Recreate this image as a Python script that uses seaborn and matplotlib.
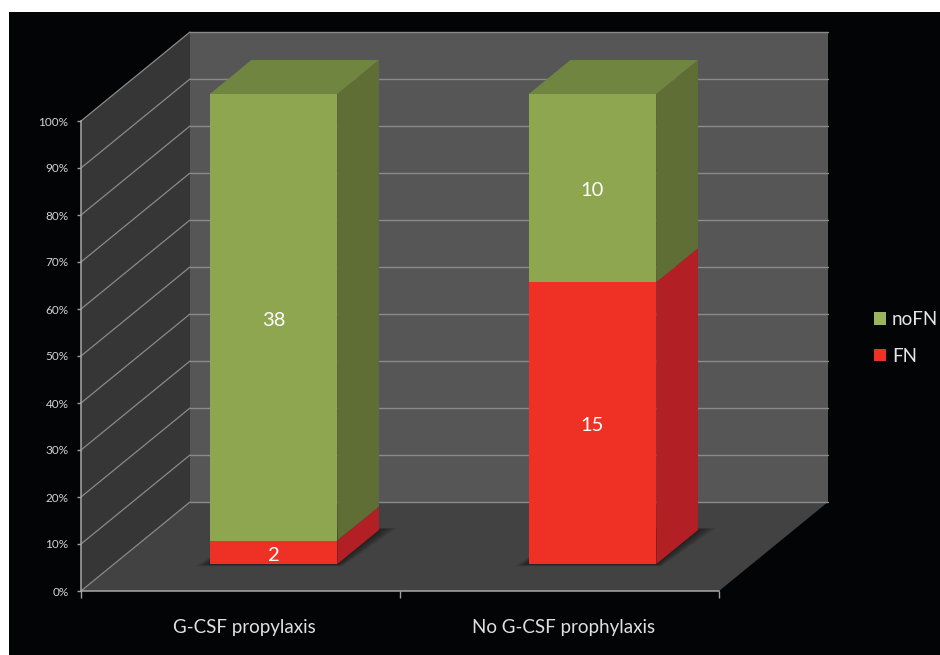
import matplotlib
matplotlib.use("Agg")
import matplotlib.pyplot as plt
from matplotlib.patches import Rectangle
from matplotlib.transforms import Affine2D
import pandas as pd
import seaborn as sns

# Patient counts per group
groups = ["G-CSF propylaxis", "No G-CSF prophylaxis"]
fn_counts = [2, 15]
nofn_counts = [38, 10]
pct_ticks = [0, 10, 20, 30, 40, 50, 60, 70, 80, 90, 100]

totals = [a + b for a, b in zip(fn_counts, nofn_counts)]
fn_pct = [100 * a / t for a, t in zip(fn_counts, totals)]
df = pd.DataFrame({"group": groups, "FN": fn_pct, "all": [100.0, 100.0]})

GREEN, GREEN_TOP, GREEN_SIDE = "#8FA651", "#6F8540", "#5E6E35"
RED, RED_SIDE = "#EE3124", "#B21F25"
BACK_WALL, SIDE_WALL, FLOOR = "#565656", "#363636", "#424242"
LINE = "#8A8A8A"

sns.set_theme(style="white")
plt.rcParams["font.family"] = ["Lato", "DejaVu Sans"]

fig = plt.figure(figsize=(9.4, 6.55), dpi=100, facecolor="white")
fig.add_artist(Rectangle((9 / 940, 0), 931 / 940, 643 / 655, transform=fig.transFigure,
                         facecolor="#020406", edgecolor="none", zorder=-5))
ax = fig.add_axes([81 / 940, 64 / 655, 638 / 940, 470 / 655])
ax.patch.set_alpha(0)

# Oblique projection: one unit of depth moves 109 px right and 89 px up
X_PER_DEPTH = 109 / 319
Y_PER_DEPTH = 89 / 4.7
BAR_FRONT, BAR_BACK = 0.303, 0.685


def proj(x, y, d):
    return x + d * X_PER_DEPTH, y + d * Y_PER_DEPTH


def face(corners, color, z, **kw):
    pts = [proj(*c) for c in corners]
    ax.fill([p[0] for p in pts], [p[1] for p in pts], color=color, lw=0,
            zorder=z, clip_on=False, **kw)


# Stacked front faces: full-height green bar with the red share over it
sns.barplot(data=df, x="group", y="all", order=groups, color=GREEN, width=0.4,
            saturation=1, linewidth=0, ax=ax)
sns.barplot(data=df, x="group", y="FN", order=groups, color=RED, width=0.4,
            saturation=1, linewidth=0, ax=ax)
front_shift = Affine2D().translate(BAR_FRONT * X_PER_DEPTH, BAR_FRONT * Y_PER_DEPTH) + ax.transData
for bar in ax.patches:
    bar.set_transform(front_shift)
    bar.set_zorder(6)
    bar.set_clip_on(False)

x0, x1 = -0.5, 1.5
ax.set_xlim(x0, x1)
ax.set_ylim(0, 100)

# Walls and floor
face([(x0, 0, 1), (x1, 0, 1), (x1, 100, 1), (x0, 100, 1)], BACK_WALL, 0)
face([(x0, 0, 0), (x0, 0, 1), (x0, 100, 1), (x0, 100, 0)], SIDE_WALL, 0)
face([(x0, 0, 0), (x1, 0, 0), (x1, 0, 1), (x0, 0, 1)], FLOOR, 0.5)

# Gridlines across the back wall and down the side wall
for t in pct_ticks:
    a, b = proj(x0, t, 1), proj(x1, t, 1)
    ax.plot([a[0], b[0]], [a[1], b[1]], color=LINE, lw=1.0, zorder=1, clip_on=False)
    c = proj(x0, t, 0)
    ax.plot([c[0], a[0]], [c[1], a[1]], color=LINE, lw=0.9, zorder=1, clip_on=False)

# Soft shadow on the floor around each bar footprint
for i in range(len(groups)):
    for k in range(7):
        g = 0.004 * k
        face([(i - 0.2 - g * 1.4, 0, BAR_FRONT - g), (i + 0.2 + g, 0, BAR_FRONT - g),
              (i + 0.2 + g * 2, 0, BAR_BACK + g), (i - 0.2, 0, BAR_BACK + g)],
             "black", 2, alpha=0.09)

# Side and top faces of the stacked bars
for i, p in enumerate(fn_pct):
    r = i + 0.2
    l = i - 0.2
    face([(r, 0, BAR_FRONT), (r, 0, BAR_BACK), (r, p, BAR_BACK), (r, p, BAR_FRONT)], RED_SIDE, 5)
    face([(r, p, BAR_FRONT), (r, p, BAR_BACK), (r, 100, BAR_BACK), (r, 100, BAR_FRONT)], GREEN_SIDE, 5)
    face([(l, 100, BAR_FRONT), (r, 100, BAR_FRONT), (r, 100, BAR_BACK), (l, 100, BAR_BACK)], GREEN_TOP, 5)

    # Count labels centred on each segment's front face
    for count, mid in ((fn_counts[i], p / 2), (nofn_counts[i], (p + 100) / 2)):
        ax.annotate(str(count), proj(i, mid, BAR_FRONT), xytext=(0, -2), textcoords="offset points",
                    color="white", fontsize=14.5, ha="center", va="center", zorder=7)

# Axes furniture
ax.set_xlabel("")
ax.set_ylabel("")
ax.set_yticks(pct_ticks, [f"{t}%" for t in pct_ticks])
ax.set_xticks([x0, 0.5, x1], ["", "", ""])
ax.set_xticks([i + 0.0125 for i in range(len(groups))], groups, minor=True)
ax.tick_params(axis="y", length=3, width=1, color="#A0A0A0", labelcolor="#D4D4D4",
               labelsize=8.5, pad=6, left=True)
ax.tick_params(axis="x", which="major", length=5, width=1, color="#A0A0A0", bottom=True)
ax.tick_params(axis="x", which="minor", length=0, labelcolor="#E0E0E0", labelsize=13.5, pad=20)
for name, spine in ax.spines.items():
    spine.set_visible(name in ("left", "bottom"))
    spine.set_color("#A8A8A8")
    spine.set_linewidth(1.1)
    spine.set_zorder(3)

handles = [Rectangle((0, 0), 1, 1, facecolor="#9DB45F", edgecolor="none"),
           Rectangle((0, 0), 1, 1, facecolor=RED, edgecolor="none")]
fig.legend(handles, ["noFN", "FN"], loc="center left", bbox_to_anchor=(874 / 940, 1 - 338 / 655),
           frameon=False, handlelength=0.62, handleheight=0.62, handletextpad=0.33, labelspacing=1.05,
           borderpad=0, borderaxespad=0, fontsize=13.5, labelcolor="#E6E6E6")

fig.savefig("out.png", dpi=100, facecolor=fig.get_facecolor())
